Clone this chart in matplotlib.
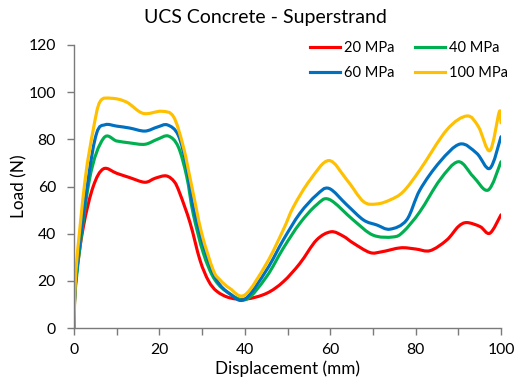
import matplotlib
matplotlib.use("Agg")
import matplotlib.pyplot as plt
import numpy as np
from matplotlib.path import Path
from matplotlib.patches import PathPatch
from matplotlib.lines import Line2D

plt.rcParams['font.family'] = ['Lato', 'DejaVu Sans']

# displacement (mm) / load (N) for each confining pressure
x_20 = [0, 0.4, 2.2, 4.5, 6.9, 10, 13, 16.6, 19, 21.6, 23.5, 24.8, 27.2, 29.5, 31.5, 33.5,
        36.5, 40.4, 45.1, 49, 52.9, 56.8, 60.2, 63, 65.4, 69.3, 72, 76.5, 80, 83.4, 87.3,
        90, 92, 95.1, 97.4, 100]
y_20 = [0, 20, 43, 60, 67.5, 65.6, 63.8, 61.8, 63.5, 64.5, 62, 57, 44.5, 28.8, 20, 15.5,
        12.8, 12.3, 14.7, 19.6, 27.4, 37.3, 40.8, 39, 36, 32, 32.3, 34, 33.5, 32.8, 37.3,
        43, 44.7, 43, 40.2, 48]

x_40 = [0, 0.5, 3.6, 6.9, 10, 13, 16.6, 19.5, 22.1, 24.4, 26.4, 27.9, 30.3, 33, 36.5, 40.4,
        45.1, 49, 52.9, 56.8, 59.8, 65.4, 70, 74.7, 77.1, 81, 85.7, 90, 93.5, 97, 100]
y_40 = [0, 20, 62.8, 80.4, 79.3, 78.5, 77.9, 80, 81.4, 76.9, 64.2, 48.6, 31.7, 20.4, 14.5, 12.2,
        21.8, 33.8, 44.4, 52.2, 54.5, 45.8, 39.4, 38.6, 40.8, 49.3, 62.8, 70.5, 64.2, 58.5, 70.5]

x_60 = [0, 0.5, 3.3, 5.3, 7.3, 10, 13, 16.6, 19.5, 21.9, 24.4, 26.4, 27.9, 30.7, 33.4, 36.5,
        40, 45.1, 49, 52.9, 56.8, 59.7, 63.9, 67.8, 70.9, 74, 77.9, 81, 85.7, 90.4, 94.3, 97.4, 100]
y_60 = [0, 22, 62.8, 82.6, 86.2, 85.6, 84.8, 83.5, 85.2, 86.1, 81.8, 68.4, 51.4, 33, 20.4, 14.5,
        12.2, 24.6, 37.3, 48.6, 56.4, 59.2, 52.2, 45.8, 43.7, 41.9, 45.8, 58.5, 70.5, 78, 74.1,
        67.7, 81.1]

x_100 = [0, 0.5, 2.6, 4.5, 6.1, 8.8, 12.3, 16.2, 20.5, 23.3, 25.6, 27.6, 29.9, 32.6, 34.2, 36.5,
         40, 45.1, 49, 51.4, 55.3, 59.7, 63.9, 67.8, 70.9, 74, 77.1, 81, 87.3, 92, 94.7, 97.4,
         99.6, 100]
y_100 = [0, 25, 62.8, 84, 96, 97.4, 95.8, 91, 91.9, 89.6, 76.9, 59.9, 40.2, 24.6, 20.4, 16.8,
         14, 27.4, 41.6, 51.4, 62.8, 71, 62.8, 53.6, 52.6, 54.3, 57.8, 67, 84, 89.9, 85.4, 75.2,
         91.7, 87]

labels = ['20 MPa', '40 MPa', '60 MPa', '100 MPa']
colors = ['#FF0000', '#00B050', '#0070C0', '#FFC000']
series = [(x_20, y_20), (x_40, y_40), (x_60, y_60), (x_100, y_100)]


def smooth_path(xs, ys, t=1 / 6):
    # Catmull-Rom through the points, written as cubic Bezier segments
    p = np.column_stack([xs, ys]).astype(float)
    verts = [p[0]]
    codes = [Path.MOVETO]
    n = len(p)
    for i in range(n - 1):
        p0 = p[i - 1] if i > 0 else p[i]
        p1 = p[i]
        p2 = p[i + 1]
        p3 = p[i + 2] if i + 2 < n else p[i + 1]
        c1 = p1 + (p2 - p0) * t
        c2 = p2 - (p3 - p1) * t
        verts += [c1, c2, p2]
        codes += [Path.CURVE4] * 3
    return Path(verts, codes)


fig = plt.figure(figsize=(5.16, 3.84), dpi=100)
ax = fig.add_axes([74 / 516, 1 - 328 / 384, 427 / 516, 283 / 384])

for (xs, ys), c in zip(series, colors):
    ax.add_patch(PathPatch(smooth_path(xs, ys), fill=False, edgecolor=c, lw=2.25,
                           capstyle='round', joinstyle='round'))

ax.set_xlim(0, 100)
ax.set_ylim(0, 120)
ax.set_xticks(np.arange(0, 101, 20))
ax.set_xticks(np.arange(0, 101, 10), minor=True)
ax.set_yticks(np.arange(0, 121, 20))

for s in ['top', 'right']:
    ax.spines[s].set_visible(False)
for s in ['left', 'bottom']:
    ax.spines[s].set_color('#7a7a7a')
    ax.spines[s].set_linewidth(1.0)

ax.tick_params(which='both', direction='out', color='#7a7a7a', width=1.0, labelsize=11.3)
ax.tick_params(axis='y', length=5, pad=8)
ax.tick_params(axis='x', which='both', length=5, pad=6)

ax.set_xlabel('Displacement (mm)', fontsize=12.3, labelpad=2)
ax.set_ylabel('Load (N)', fontsize=12.3, labelpad=1)
fig.text(265 / 516, 1 - 18 / 384, 'UCS Concrete - Superstrand', ha='center', va='center', fontsize=14)

# legend fills column-wise, so order handles to read 20/40 on the top row
order = [0, 2, 1, 3]
handles = [Line2D([], [], color=colors[i], lw=2.25) for i in order]
ax.legend(handles, [labels[i] for i in order], ncols=2, frameon=False, fontsize=10.5,
          loc='upper left', bbox_to_anchor=(310 / 516, 1 - 41 / 384),
          bbox_transform=fig.transFigure, borderpad=0, borderaxespad=0,
          handlelength=2.05, handletextpad=0.25, columnspacing=1.45, labelspacing=0.74)

fig.savefig('out.png', dpi=100)
